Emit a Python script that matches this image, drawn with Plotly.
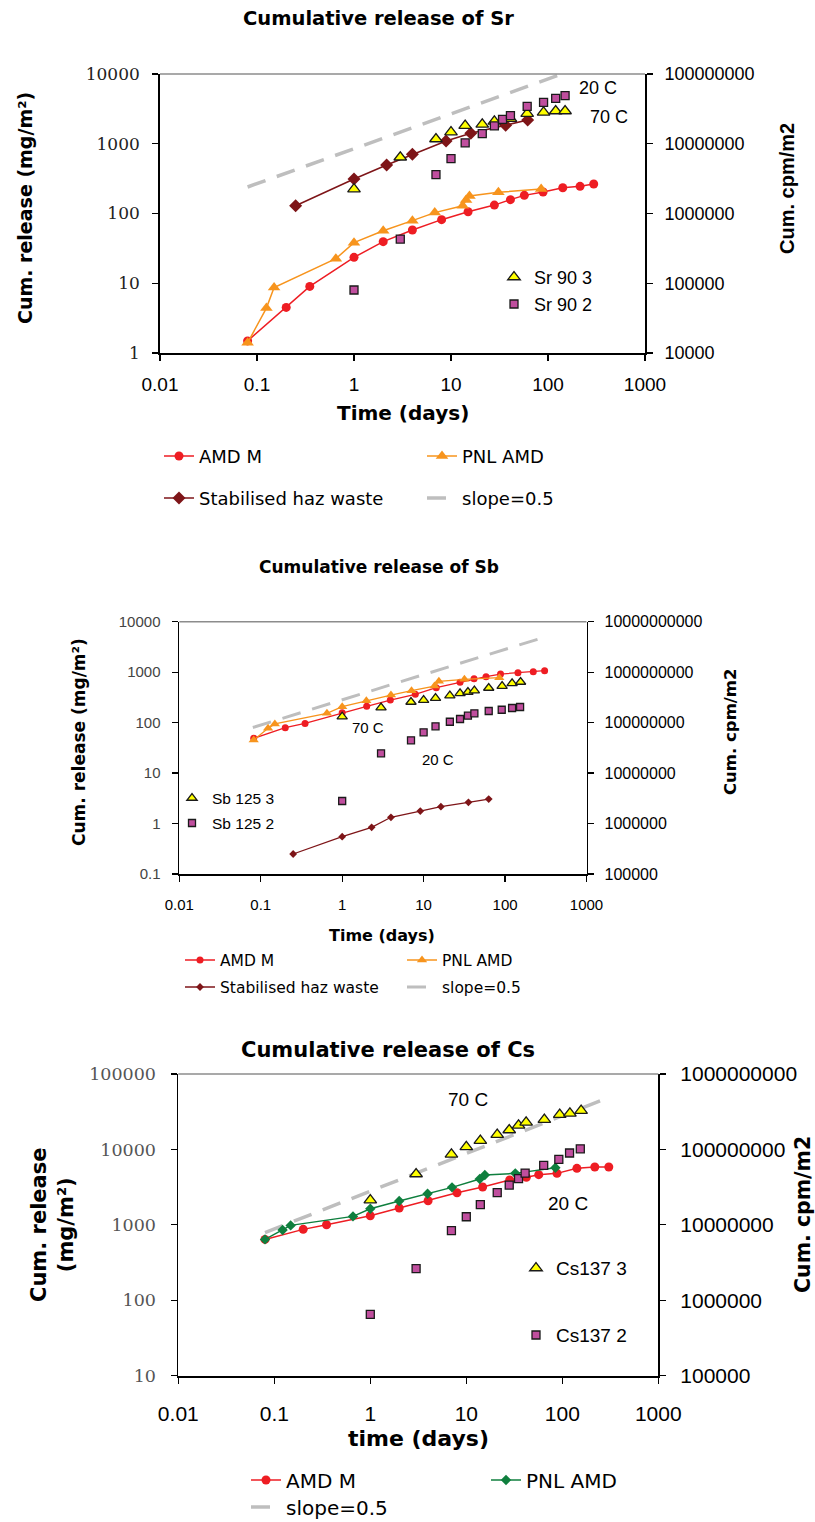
import math
import plotly.graph_objects as go

W, H = 815, 1522

# ---------------- DATA ----------------
# Panel 1: Sr
sr_amd_t = [0.08, 0.2, 0.35, 1, 2, 4, 8, 15, 28, 41, 57, 89, 142, 214, 296]
sr_amd_v = [1.49, 4.5, 9.0, 23.5, 39.5, 58, 81.6, 106, 132, 158, 182, 203, 234, 245, 265]
sr_pnl_t = [0.08, 0.125, 0.15, 0.65, 1, 2, 4, 6.8, 13.2, 14.3, 15.5, 30.8, 85]
sr_pnl_v = [1.4, 4.4, 8.7, 22.5, 38.2, 56.7, 79, 103, 129, 156, 178, 201, 224]
sr_haz_t = [0.25, 1, 2.17, 4, 8.9, 16, 36.6, 61.7]
sr_haz_v = [129, 312, 496, 705, 1095, 1410, 1837, 2190]
sr_slope_t = [0.08, 300]
sr_slope_v = [240, 14700]
sr903_t = [1, 3, 7, 10, 14, 21, 28, 41, 61, 90, 120, 150]
sr903_cpm = [2.24e6, 6.4e6, 1.17e7, 1.47e7, 1.82e7, 1.9e7, 2.1e7, 2.29e7, 2.7e7, 2.82e7, 2.95e7, 2.95e7]
sr902_t = [1, 3, 7, 10, 14, 21, 28, 34, 41, 61, 90, 120, 150]
sr902_cpm = [8.0e4, 4.3e5, 3.6e6, 6.1e6, 1.03e7, 1.4e7, 1.8e7, 2.24e7, 2.53e7, 3.44e7, 3.93e7, 4.48e7, 4.89e7]

# Panel 2: Sb
sb_amd_t = [0.082, 0.2, 0.35, 1, 2, 3.9, 7.9, 14.3, 28, 41.6, 58.4, 88, 144, 222, 306]
sb_amd_v = [48.8, 79.4, 96.6, 157, 210, 280, 363, 492, 628, 743, 813, 918, 976, 1021, 1069]
sb_pnl_t = [0.082, 0.123, 0.149, 0.65, 1, 1.98, 3.97, 7.1, 13.6, 15.4, 31.7, 85]
sb_pnl_v = [45, 77, 94, 153, 207, 272, 352, 430, 531, 657, 720, 776]
sb_haz_t = [0.25, 1, 2.3, 3.97, 9.1, 16.3, 35.5, 63]
sb_haz_v = [0.249, 0.55, 0.84, 1.33, 1.77, 2.16, 2.63, 3.06]
sb_slope_t = [0.08, 300]
sb_slope_v = [80, 4900]
sb1253_t = [1, 3, 7, 10, 14, 21, 28, 35, 42, 63, 92, 122, 155]
sb1253_cpm = [1.31e8, 1.98e8, 2.56e8, 2.8e8, 3.07e8, 3.42e8, 3.8e8, 4.04e8, 4.3e8, 4.85e8, 5.31e8, 6.0e8, 6.38e8]
sb1252_t = [1, 3, 7, 10, 14, 21, 28, 35, 42, 63, 91, 122, 153]
sb1252_cpm = [2.8e6, 2.46e7, 4.45e7, 6.41e7, 8.43e7, 1.04e8, 1.18e8, 1.37e8, 1.53e8, 1.70e8, 1.80e8, 1.95e8, 2.04e8]

# Panel 3: Cs
cs_amd_t = [0.08, 0.2, 0.35, 1, 2, 4, 8, 14.8, 28.3, 42.2, 56.8, 88, 142, 218, 305]
cs_amd_v = [641, 871, 1004, 1321, 1671, 2090, 2668, 3172, 3927, 4263, 4624, 4815, 5610, 5842, 5842]
cs_pnl_t = [0.08, 0.122, 0.148, 0.66, 1, 2, 3.95, 7.1, 13.8, 15.6, 32.4, 84.7]
cs_pnl_v = [641, 853, 984, 1295, 1637, 2070, 2588, 3140, 4050, 4575, 4815, 5726]
cs_slope_t = [0.08, 300]
cs_slope_v = [790, 48400]
cs1373_t = [1, 3, 7, 10, 14, 21, 28, 35, 42, 65, 94, 120, 157]
cs1373_cpm = [2.13e7, 4.72e7, 8.6e7, 1.08e8, 1.31e8, 1.57e8, 1.81e8, 2.09e8, 2.29e8, 2.48e8, 2.89e8, 3.01e8, 3.27e8]
cs1372_t = [1, 3, 7, 10, 14, 21, 28, 35, 41, 64, 92, 119, 154]
cs1372_cpm = [6.5e5, 2.62e6, 8.36e6, 1.28e7, 1.85e7, 2.67e7, 3.37e7, 4.09e7, 4.86e7, 6.15e7, 7.39e7, 8.96e7, 1.02e8]

# Tick labels
x_tickvals = [0.01, 0.1, 1, 10, 100, 1000]
x_ticktext = ["0.01", "0.1", "1", "10", "100", "1000"]
sr_left_tickvals = [1, 10, 100, 1000, 10000]
sr_left_ticktext = ["1", "10", "100", "1000", "10000"]
sr_right_tickvals = [1e4, 1e5, 1e6, 1e7, 1e8]
sr_right_ticktext = ["10000", "100000", "1000000", "10000000", "100000000"]
sb_left_tickvals = [0.1, 1, 10, 100, 1000, 10000]
sb_left_ticktext = ["0.1", "1", "10", "100", "1000", "10000"]
sb_right_tickvals = [1e5, 1e6, 1e7, 1e8, 1e9, 1e10]
sb_right_ticktext = ["100000", "1000000", "10000000", "100000000", "1000000000", "10000000000"]
cs_left_tickvals = [10, 100, 1000, 10000, 100000]
cs_left_ticktext = ["10", "100", "1000", "10000", "100000"]
cs_right_tickvals = [1e5, 1e6, 1e7, 1e8, 1e9]
cs_right_ticktext = ["100000", "1000000", "10000000", "100000000", "1000000000"]

# ---------------- STYLE ----------------
RED = "#EE1D23"
ORANGE = "#F7941D"
DARKRED = "#7E1518"
GREEN = "#0F7F3E"
YELLOW = "#FFFF00"
PURPLE = "#C04E9E"
GREY = "#BEBEBE"
DV = "DejaVu Sans"
DVS = "DejaVu Serif"
AR = "Liberation Sans, Arial"


def px(x):
    return x / W


def py(y):
    return 1 - y / H


def lrange(vals):
    return [math.log10(min(vals)), math.log10(max(vals))]


fig = go.Figure()


def line_trace(t, v, name, color, symbol, size, xa, ya, legend, rank, width=1.5):
    fig.add_trace(go.Scatter(
        x=t, y=v, name=name, mode="lines+markers", xaxis=xa, yaxis=ya,
        line=dict(color=color, width=width),
        marker=dict(symbol=symbol, size=size, color=color),
        legend=legend, legendrank=rank, hoverinfo="skip"))


def slope_trace(t, v, xa, ya, legend, rank, width):
    fig.add_trace(go.Scatter(
        x=t, y=v, name="slope=0.5", mode="lines", xaxis=xa, yaxis=ya,
        line=dict(color=GREY, width=width, dash="19px,12px"),
        legend=legend, legendrank=rank, hoverinfo="skip"))


def pt_trace(t, v, name, symbol, color, size, xa, ya, legend):
    fig.add_trace(go.Scatter(
        x=t, y=v, name=name, mode="markers", xaxis=xa, yaxis=ya,
        marker=dict(symbol=symbol, size=size, color=color,
                    line=dict(color="#1a1a1a", width=1.3)),
        legend=legend, hoverinfo="skip"))


# Panel 1
slope_trace(sr_slope_t, sr_slope_v, "x", "y", "legend2", 4, 3.5)
line_trace(sr_amd_t, sr_amd_v, "AMD M", RED, "circle", 9, "x", "y", "legend", 1)
line_trace(sr_pnl_t, sr_pnl_v, "PNL AMD", ORANGE, "triangle-up", 11, "x", "y", "legend", 2)
line_trace(sr_haz_t, sr_haz_v, "Stabilised haz waste", DARKRED, "diamond", 10, "x", "y", "legend2", 3)
pt_trace(sr903_t, sr903_cpm, "Sr 90 3", "triangle-up", YELLOW, 11, "x", "y2", "legend3")
pt_trace(sr902_t, sr902_cpm, "Sr 90 2", "square", PURPLE, 8, "x", "y2", "legend4")

# Panel 2
slope_trace(sb_slope_t, sb_slope_v, "x2", "y3", "legend6", 4, 3)
line_trace(sb_amd_t, sb_amd_v, "AMD M", RED, "circle", 7, "x2", "y3", "legend5", 1, 1.3)
line_trace(sb_pnl_t, sb_pnl_v, "PNL AMD", ORANGE, "triangle-up", 9, "x2", "y3", "legend5", 2, 1.3)
line_trace(sb_haz_t, sb_haz_v, "Stabilised haz waste", DARKRED, "diamond", 6, "x2", "y3", "legend6", 3, 1.3)
pt_trace(sb1253_t, sb1253_cpm, "Sb 125 3", "triangle-up", YELLOW, 9, "x2", "y4", "legend7")
pt_trace(sb1252_t, sb1252_cpm, "Sb 125 2", "square", PURPLE, 7, "x2", "y4", "legend8")

# Panel 3
slope_trace(cs_slope_t, cs_slope_v, "x3", "y5", "legend10", 4, 3.5)
line_trace(cs_amd_t, cs_amd_v, "AMD M", RED, "circle", 9, "x3", "y5", "legend9", 1)
line_trace(cs_pnl_t, cs_pnl_v, "PNL AMD", GREEN, "diamond", 8, "x3", "y5", "legend9", 2)
pt_trace(cs1373_t, cs1373_cpm, "Cs137 3", "triangle-up", YELLOW, 11, "x3", "y6", "legend11")
pt_trace(cs1372_t, cs1372_cpm, "Cs137 2", "square", PURPLE, 8, "x3", "y6", "legend12")


def xaxis_cfg(dom, y_anchor, fs, standoff):
    return dict(type="log", domain=dom, anchor=y_anchor, range=lrange(x_tickvals),
                tickvals=x_tickvals, ticktext=x_ticktext, ticks="outside", ticklen=6,
                tickwidth=1.3, tickcolor="black", showline=True, linecolor="black",
                linewidth=1.8, showgrid=False, zeroline=False, automargin=False,
                ticklabelstandoff=standoff,
                tickfont=dict(family=AR, size=fs, color="black"))


def yaxis_cfg(dom, x_anchor, tv, tt, fam, fs, color, standoff, side="left", overlay=None):
    d = dict(type="log", range=lrange(tv), tickvals=tv, ticktext=tt, ticks="outside",
             ticklen=6, tickwidth=1.3, tickcolor="black", showline=True, linecolor="black",
             linewidth=1.8, showgrid=False, zeroline=False, automargin=False,
             anchor=x_anchor, side=side, ticklabelstandoff=standoff,
             tickfont=dict(family=fam, size=fs, color=color))
    if overlay:
        d["overlaying"] = overlay
    else:
        d["domain"] = dom
    return d


p1x = [px(160), px(645)]
p1y = [py(353), py(74)]
p2x = [px(179.3), px(586.5)]
p2y = [py(874), py(621.7)]
p3x = [px(178.3), px(658.3)]
p3y = [py(1375.7), py(1074)]


def legend_cfg(text_x, center_y, fs, family, entry=None):
    h = max(fs * 1.3, 16) + 3
    top = center_y - (h / 2 + 5)
    d = dict(x=px(text_x - 40), y=py(top), xanchor="left", yanchor="top",
             orientation="h" if entry else "v", bgcolor="rgba(0,0,0,0)", borderwidth=0,
             font=dict(family=family, size=fs, color="black"), itemclick=False,
             itemdoubleclick=False, traceorder="normal")
    if entry:
        d["entrywidth"] = entry
        d["entrywidthmode"] = "pixels"
    return d


fig.update_layout(
    width=W, height=H, template="none",
    paper_bgcolor="white", plot_bgcolor="white",
    margin=dict(l=0, r=0, t=0, b=0, autoexpand=False),
    showlegend=True,
    xaxis=xaxis_cfg(p1x, "y", 19, 7),
    yaxis=yaxis_cfg(p1y, "x", sr_left_tickvals, sr_left_ticktext, DVS, 17, "#222", 9),
    yaxis2=yaxis_cfg(None, "x", sr_right_tickvals, sr_right_ticktext, AR, 18, "black", 8,
                     side="right", overlay="y"),
    xaxis2=xaxis_cfg(p2x, "y3", 15, 10),
    yaxis3=yaxis_cfg(p2y, "x2", sb_left_tickvals, sb_left_ticktext, AR, 15, "#444", 8),
    yaxis4=yaxis_cfg(None, "x2", sb_right_tickvals, sb_right_ticktext, AR, 16, "black", 7,
                     side="right", overlay="y3"),
    xaxis3=xaxis_cfg(p3x, "y5", 21, 12),
    yaxis5=yaxis_cfg(p3y, "x3", cs_left_tickvals, cs_left_ticktext, DVS, 17.5, "#555", 11),
    yaxis6=yaxis_cfg(None, "x3", cs_right_tickvals, cs_right_ticktext, AR, 21, "black", 10,
                     side="right", overlay="y5"),
    legend=legend_cfg(199, 456, 18, DV, 218),
    legend2=legend_cfg(199, 498, 18, DV, 218),
    legend3=legend_cfg(534, 277, 18, AR),
    legend4=legend_cfg(534, 304, 18, AR),
    legend5=legend_cfg(220, 960, 15.5, DV, 177),
    legend6=legend_cfg(220, 987, 15.5, DV, 177),
    legend7=legend_cfg(212, 798, 15.5, AR),
    legend8=legend_cfg(212, 823, 15.5, AR),
    legend9=legend_cfg(286, 1480, 20, DV, 195),
    legend10=legend_cfg(286, 1507, 20, DV, 195),
    legend11=legend_cfg(556, 1268, 19, AR),
    legend12=legend_cfg(556, 1335, 19, AR),
)

# Top borders of plot areas
for xr, yr in [("x", "y"), ("x2", "y3"), ("x3", "y5")]:
    fig.add_shape(type="line", xref=f"{xr} domain", yref=f"{yr} domain",
                  x0=0, x1=1, y0=1, y1=1, line=dict(color="#8c8c8c", width=1.5))


def text(t, x, y, fam, fs, bold=False, angle=0):
    fig.add_annotation(text=t, x=px(x), y=py(y), xref="paper", yref="paper",
                       xanchor="center", yanchor="middle", showarrow=False,
                       textangle=angle,
                       font=dict(family=fam, size=fs, color="black",
                                 weight="bold" if bold else "normal"))


# Panel 1 texts
text("Cumulative release of Sr", 378, 18, DV, 19.5, True)
text("Time (days)", 403, 413, DV, 20, True)
text("Cum. release (mg/m²)", 25, 208, DV, 19, True, -90)
text("Cum. cpm/m2", 787, 189, AR, 20, True, -90)
text("20 C", 598, 88, AR, 18)
text("70 C", 609, 117, AR, 18)
# Panel 2 texts
text("Cumulative release of Sb", 379, 567, DV, 17, True)
text("Time (days)", 382, 935, DV, 16, True)
text("Cum. release (mg/m²)", 79, 742, DV, 17, True, -90)
text("Cum. cpm/m2", 730, 732, DV, 16.5, True, -90)
text("70 C", 368, 727, AR, 15)
text("20 C", 438, 759, AR, 15)
# Panel 3 texts
text("Cumulative release of Cs", 388, 1050, DV, 21, True)
text("time (days)", 418, 1438, DV, 22, True)
text("Cum. release<br>(mg/m²)", 52, 1225, DV, 21, True, -90)
text("Cum. cpm/m2", 803, 1215, DV, 20.5, True, -90)
text("70 C", 468, 1099, AR, 19)
text("20 C", 568, 1203, AR, 19)

fig.write_html("out.html",
               config={"displayModeBar": False, "staticPlot": True},
               post_script="document.body.style.margin='0';document.body.style.overflow='hidden';")
